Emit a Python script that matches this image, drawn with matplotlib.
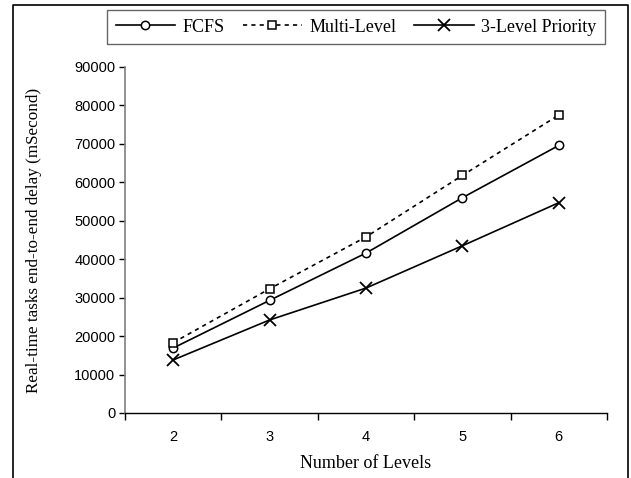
import matplotlib
matplotlib.use("Agg")
import matplotlib.pyplot as plt
from matplotlib.lines import Line2D

levels = ["2", "3", "4", "5", "6"]
fcfs = [16900, 29300, 41600, 56000, 69600]
multi_level = [18300, 32300, 45800, 61800, 77500]
three_level = [13800, 24200, 32500, 43500, 54700]
y_ticks = [0, 10000, 20000, 30000, 40000, 50000, 60000, 70000, 80000, 90000]

W, H = 631, 478
fig = plt.figure(figsize=(W / 100, H / 100), dpi=100)
ax = fig.add_axes([125 / W, 1 - 413 / H, (607 - 125) / W, (413 - 67) / H])

x = list(range(len(levels)))
serif = ["Liberation Serif", "DejaVu Serif"]
sans = ["Liberation Sans", "DejaVu Sans"]

ax.plot(x, fcfs, color="black", lw=1.2, marker="o", ms=6, mfc="white",
        mec="black", mew=1.1, label="FCFS")
ax.plot(x, multi_level, color="black", lw=1.2, ls=(0, (2.5, 2.5)), marker="s",
        ms=6, mfc="white", mec="black", mew=1.1, label="Multi-Level")
ax.plot(x, three_level, color="black", lw=1.2, marker="x", ms=8,
        mew=1.3, label="3-Level Priority")

ax.set_xlim(-0.5, len(levels) - 0.5)
ax.set_ylim(0, 90000)
ax.set_yticks(y_ticks)
ax.set_yticklabels([str(v) for v in y_ticks], fontfamily=sans, fontsize=10.5)
ax.set_xticks(x)
ax.set_xticklabels(levels, fontfamily=sans, fontsize=10.5)
ax.set_xticks([i - 0.5 for i in range(len(levels) + 1)], minor=True)
ax.tick_params(axis="x", which="major", length=0, pad=12)
ax.tick_params(axis="x", which="minor", length=5, width=1, direction="out")
ax.tick_params(axis="y", length=4, width=1, direction="out", pad=3)

for s in ["top", "right"]:
    ax.spines[s].set_visible(False)
ax.spines["left"].set_color("#808080")
ax.spines["left"].set_linewidth(1.2)
ax.spines["bottom"].set_color("black")
ax.spines["bottom"].set_linewidth(1.0)

ax.set_xlabel("Number of Levels", fontfamily=serif, fontsize=13, labelpad=8)
ax.set_ylabel("Real-time tasks end-to-end delay (mSecond)", fontfamily=serif,
              fontsize=12.3)
ax.yaxis.set_label_coords((42 - 125) / (607 - 125), 0.5)

leg = fig.legend(loc="center", bbox_to_anchor=(356 / W, 1 - 27 / H), ncol=3,
                 frameon=True, fancybox=False, handlelength=3.3,
                 columnspacing=1.0, handletextpad=0.4, borderpad=0.45,
                 borderaxespad=0.0,
                 prop={"family": serif, "size": 13})
leg.get_frame().set_edgecolor("#404040")
leg.get_frame().set_linewidth(1.0)

# figure border (open at bottom)
bx0, bx1, by = 13 / W, 628 / W, 1 - 5 / H
fig.add_artist(Line2D([bx0, bx0, bx1, bx1], [0, by, by, 0], color="black",
                      lw=1.2, transform=fig.transFigure))

fig.savefig("out.png", dpi=100)
